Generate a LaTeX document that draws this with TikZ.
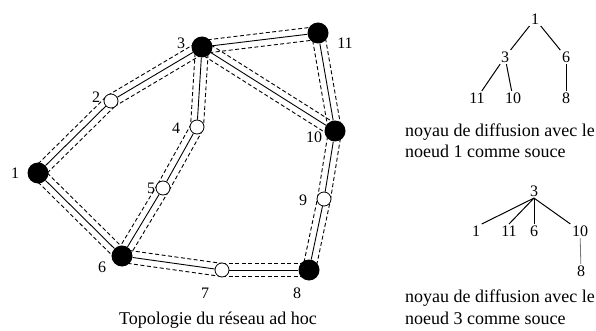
\documentclass[tikz,border=0pt]{standalone}
\usepackage{fontspec}
\setmainfont{Liberation Serif}
\usetikzlibrary{calc}
\pgfdeclarelayer{bg}
\pgfsetlayers{bg,main}
\newcommand\envpair[2]{%
  \draw[env] ($(#1)!6.5pt!90:(#2)$) -- ($(#2)!6.5pt!-90:(#1)$);
  \draw[env] ($(#1)!6.5pt!-90:(#2)$) -- ($(#2)!6.5pt!90:(#1)$);
  \draw[link] (#1) -- (#2);}
\begin{document}
\begin{tikzpicture}[x=1pt,y=-1pt,
  hub/.style={circle,fill=black,minimum size=21pt,inner sep=0pt},
  relay/.style={circle,draw=black,fill=white,line width=0.8pt,minimum size=14pt,inner sep=0pt},
  lbl/.style={font=\fontsize{16}{18}\selectfont,inner sep=1pt},
  link/.style={line width=0.9pt},
  env/.style={line width=0.9pt,dash pattern=on 4pt off 2.5pt},
  tl/.style={font=\fontsize{16}{18}\selectfont,inner sep=1.5pt},
  tedge/.style={line width=1pt},
  captext/.style={font=\fontsize{18}{21.5}\selectfont,align=left,anchor=west,inner sep=0pt}
]
\useasboundingbox (0,0) rectangle (596,331);
% network nodes
\node[hub] (n1) at (38,173) {};
\node[relay] (n2) at (111,101) {};
\node[hub] (n3) at (202,47) {};
\node[relay] (n4) at (197,127) {};
\node[relay] (n5) at (163,188) {};
\node[hub] (n6) at (122,256) {};
\node[relay] (n7) at (222,270) {};
\node[hub] (n8) at (309,270) {};
\node[relay] (n9) at (324,199) {};
\node[hub] (n10) at (335,131) {};
\node[hub] (n11) at (318,33) {};
\begin{pgfonlayer}{bg}
\envpair{n1}{n2}
\envpair{n2}{n3}
\envpair{n3}{n4}
\envpair{n4}{n5}
\envpair{n5}{n6}
\envpair{n1}{n6}
\envpair{n6}{n7}
\envpair{n7}{n8}
\envpair{n8}{n9}
\envpair{n9}{n10}
\envpair{n3}{n10}
\envpair{n3}{n11}
\envpair{n11}{n10}
\end{pgfonlayer}
% labels
\node[lbl] (l1) at (15,173) {1};
\node[lbl] (l2) at (96,97) {2};
\node[lbl] (l3) at (181,43) {3};
\node[lbl] (l4) at (176,128) {4};
\node[lbl] (l5) at (151,188) {5};
\node[lbl] (l6) at (102,267) {6};
\node[lbl] (l7) at (205,293) {7};
\node[lbl] (l8) at (297,293) {8};
\node[lbl] (l9) at (303,200) {9};
\node[lbl] (l10) at (314,137) {10};
\node[lbl] (l11) at (345,43) {11};
\node[font=\fontsize{18}{21}\selectfont,inner sep=0pt] (title) at (218,320) {Topologie du réseau ad hoc};
% tree 1
\node[tl] (t1) at (535,19) {1};
\node[tl] (t3) at (505,57) {3};
\node[tl] (t6) at (566,57) {6};
\node[tl] (t11) at (477,98) {11};
\node[tl] (t10) at (513,98) {10};
\node[tl] (t8) at (566,98) {8};
\draw[tedge] (t1) -- (t3);
\draw[tedge] (t1) -- (t6);
\draw[tedge] (t3) -- (t11);
\draw[tedge] (t3) -- (t10);
\draw[tedge] (t6) -- (t8);
\node[captext] (c1text) at (405,141) {noyau de diffusion avec le\\noeud 1 comme souce};
% tree 2
\node[tl] (s3) at (534,191) {3};
\node[tl] (u1) at (476,231) {1};
\node[tl] (u11) at (509,231) {11};
\node[tl] (u6) at (534,231) {6};
\node[tl] (u10) at (580,231) {10};
\node[tl] (u8) at (581,271) {8};
\draw[tedge] (s3.south) -- (u1.north east);
\draw[tedge] (s3.south) -- (u11.north);
\draw[tedge] (s3.south) -- (u6.north);
\draw[tedge] (s3.south) -- (u10.north west);
\draw[line width=0.8pt,black!55] (u10) -- (u8);
\node[captext] (c2text) at (405,307) {noyau de diffusion avec le\\noeud 3 comme souce};
\end{tikzpicture}
\end{document}
